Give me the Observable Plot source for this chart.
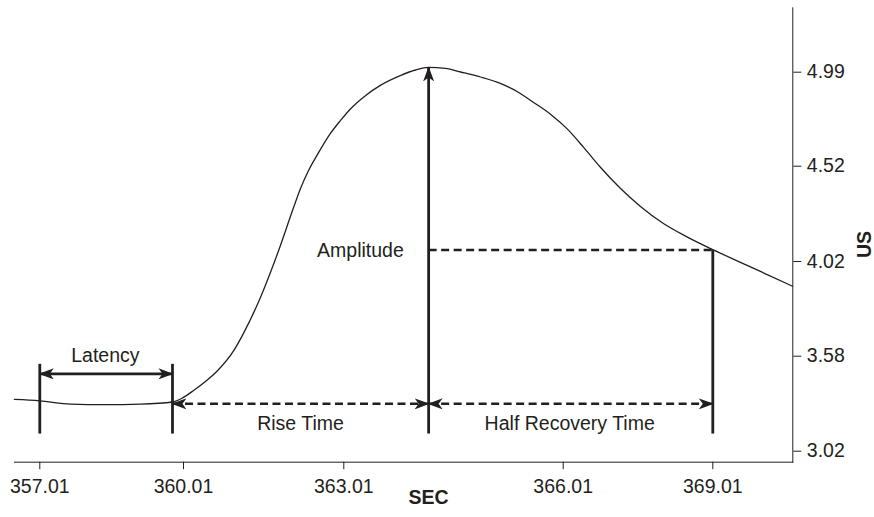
<!DOCTYPE html>
<html><head><meta charset="utf-8">
<script src="https://cdn.jsdelivr.net/npm/d3@7"></script>
<script src="https://cdn.jsdelivr.net/npm/@observablehq/plot@0.6"></script>
<style>body{margin:0;background:#fff}</style>
</head><body><div id="chart"></div>
<script>
// Tick labels (the original axes are labelled at uneven data steps)
const secTicks = [357.01, 360.01, 363.01, 366.01, 369.01];
const usTicks = [3.02, 3.58, 4.02, 4.52, 4.99];

// Skin-conductance response curve (SEC, US)
const sec = [356.48, 357.01, 357.65, 358.38, 359.11, 359.78, 359.99, 360.20, 360.42, 360.65,
  360.95, 361.13, 361.45, 361.77, 362.07, 362.20, 362.35, 362.54, 362.76, 362.95, 363.10,
  363.31, 363.51, 363.79, 363.99, 364.17, 364.40, 364.61, 364.88, 365.15, 365.39,
  365.60, 365.84, 366.10, 366.42, 366.76, 367.16, 367.56, 368.02, 368.50, 369.02,
  369.71, 370.61];
const us = [3.325, 3.317, 3.298, 3.295, 3.298, 3.310, 3.334, 3.378, 3.431, 3.496,
  3.606, 3.685, 3.853, 4.062, 4.303, 4.403, 4.497, 4.589, 4.684, 4.749, 4.806,
  4.874, 4.924, 4.974, 5.001, 5.014, 5.009, 4.991, 4.966, 4.934, 4.891,
  4.840, 4.779, 4.704, 4.614, 4.513, 4.403, 4.309, 4.219, 4.148, 4.081,
  4.001, 3.905];

// Key moments of the response
const stimulusSec = 357.01;
const onsetSec = 359.78;
const peakSec = 364.17;
const peakUS = 5.014;
const halfSec = 369.01;
const halfUS = 4.08;
const markerBaseUS = 3.124;
const latencyTopUS = 3.535;
const latencyArrowUS = 3.476;
const timeArrowUS = 3.299;

// Annotation labels
const spanLabels = ["Latency", "Rise Time", "Half Recovery Time"];
const spanSec = [358.38, 362.20, 366.14];
const spanUS = [3.58, 3.179, 3.179];
const amplitudeLabel = "Amplitude";
const amplitudeLabelSec = 363.83;
const amplitudeLabelUS = 4.078;
const xTitle = "SEC";
const yTitle = "US";
const yTitleUS = 4.18;

// Scale ranges (piecewise, as in the original axes)
const xRange = [39.3, 183, 343.3, 562.7, 712.3];
const yRange = [450.7, 355.7, 261, 165.7, 71.7];

const ink = "#231f20";
const curve = sec.map((s, i) => ({sec: s, us: us[i]}));
const verticals = [
  {x: stimulusSec, y1: markerBaseUS, y2: latencyTopUS},
  {x: onsetSec, y1: markerBaseUS, y2: latencyTopUS},
  {x: halfSec, y1: markerBaseUS, y2: halfUS}
];
const spans = spanLabels.map((t, i) => ({t, x: spanSec[i], y: spanUS[i]}));

const chart = Plot.plot({
  width: 874, height: 517,
  marginLeft: 14, marginRight: 81.7, marginTop: 7.3, marginBottom: 55.3,
  style: {fontFamily: "'Liberation Sans', Arial, Helvetica, sans-serif", fontSize: "19.5px", color: ink, background: "#fff"},
  x: {type: "linear", domain: secTicks, range: xRange, ticks: secTicks, tickFormat: d => d.toFixed(2),
      tickSize: 7.5, tickPadding: 9, line: true, label: null},
  y: {type: "linear", domain: usTicks, range: yRange, ticks: usTicks, tickFormat: d => d.toFixed(2),
      axis: "right", tickSize: 8, tickPadding: 6, line: true, label: null},
  marks: [
    Plot.line(curve, {x: "sec", y: "us", curve: "monotone-x", stroke: ink, strokeWidth: 1.3}),
    Plot.link(verticals, {x1: "x", x2: "x", y1: "y1", y2: "y2", stroke: ink, strokeWidth: 2.8}),
    Plot.link([{x1: peakSec, y1: markerBaseUS, x2: peakSec, y2: peakUS}],
      {x1: "x1", y1: "y1", x2: "x2", y2: "y2", stroke: ink, strokeWidth: 2.8, ariaDescription: "arrow-end"}),
    Plot.link([{x1: peakSec, y1: halfUS, x2: halfSec, y2: halfUS}],
      {x1: "x1", y1: "y1", x2: "x2", y2: "y2", stroke: ink, strokeWidth: 2.5, strokeDasharray: "8,4.5"}),
    Plot.link([{x1: stimulusSec, y1: latencyArrowUS, x2: onsetSec, y2: latencyArrowUS}],
      {x1: "x1", y1: "y1", x2: "x2", y2: "y2", stroke: ink, strokeWidth: 2.6, ariaDescription: "arrow-both"}),
    Plot.link([{x1: onsetSec, y1: timeArrowUS, x2: peakSec, y2: timeArrowUS},
               {x1: peakSec, y1: timeArrowUS, x2: halfSec, y2: timeArrowUS}],
      {x1: "x1", y1: "y1", x2: "x2", y2: "y2", stroke: ink, strokeWidth: 2.5, strokeDasharray: "8,4.5", ariaDescription: "arrow-both"}),
    Plot.text(spans, {x: "x", y: "y", text: "t", textAnchor: "middle", fill: ink}),
    Plot.text([amplitudeLabel], {x: [amplitudeLabelSec], y: [amplitudeLabelUS], text: d => d, textAnchor: "end", fill: ink}),
    Plot.text([xTitle], {x: [peakSec], frameAnchor: "bottom", dy: 42, text: d => d, fontWeight: "bold", fill: ink}),
    Plot.text([yTitle], {y: [yTitleUS], frameAnchor: "right", dx: 72, rotate: -90, text: d => d, fontWeight: "bold", fill: ink})
  ]
});

// Filled arrowheads like the original diagram
const svg = d3.select(chart);
const defs = svg.append("defs");
defs.append("marker").attr("id", "ah")
  .attr("viewBox", "0 -5.5 15 11").attr("refX", 14).attr("refY", 0)
  .attr("markerWidth", 15).attr("markerHeight", 11)
  .attr("markerUnits", "userSpaceOnUse").attr("orient", "auto-start-reverse")
  .append("path").attr("d", "M0,-5.5L15,0L0,5.5L4,0Z").attr("fill", ink).attr("stroke", "none");
svg.selectAll('g[aria-description="arrow-both"] path').attr("marker-start", "url(#ah)").attr("marker-end", "url(#ah)");
svg.selectAll('g[aria-description="arrow-end"] path').attr("marker-end", "url(#ah)");

document.getElementById("chart").appendChild(chart);
</script></body></html>
